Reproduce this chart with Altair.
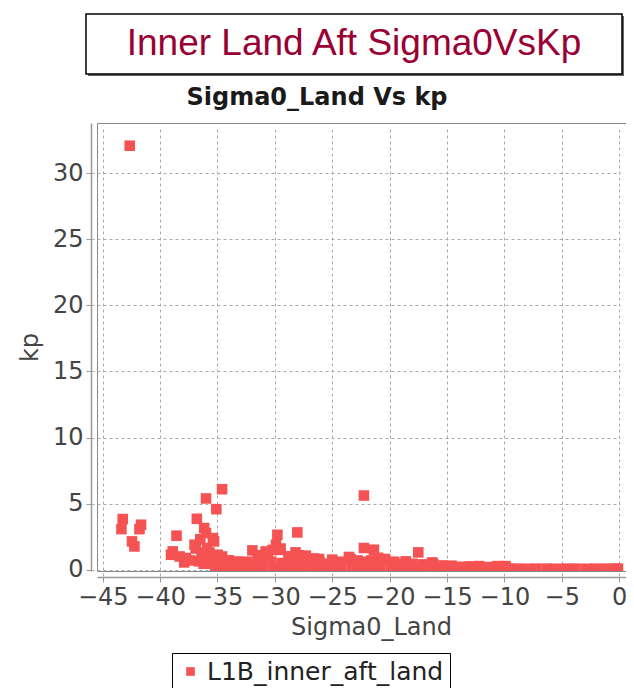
import altair as alt
import pandas as pd

MAIN_TITLE = "Inner Land Aft Sigma0VsKp"
SUB_TITLE = "Sigma0_Land Vs kp"
X_TITLE = "Sigma0_Land"
Y_TITLE = "kp"
SERIES = "L1B_inner_aft_land"
X_TICKS = [-45, -40, -35, -30, -25, -20, -15, -10, -5, 0]
Y_TICKS = [0, 5, 10, 15, 20, 25, 30]

# scattered points (outlier + clusters)
sigma_scatter = [-42.65, -43.26, -43.37, -41.66, -41.8, -42.45, -42.24,
                 -38.57, -36.0, -34.6, -35.1, -36.8, -36.16, -36.0, -35.4, -35.3,
                 -37.0, -38.9, -39.05, -37.75, -36.6, -36.9, -35.9, -36.1, -35.0,
                 -34.6, -38.3, -37.4, -37.9, -36.2, -35.6, -36.5, -35.7, -36.4,
                 -34.0, -33.2, -32.5, -31.96, -31.1, -30.8,
                 -29.78, -28.04, -29.9, -30.2, -29.5, -28.2, -28.8, -27.3, -26.6,
                 -26.15, -25.0, -24.3, -23.55, -22.24, -22.24, -21.37, -22.8, -21.0,
                 -20.4, -19.6, -18.6, -17.5, -16.3]
kp_scatter = [32.08, 3.83, 3.07, 3.4, 3.07, 2.14, 1.76,
              2.57, 5.39, 6.09, 4.58, 3.85, 3.15, 2.77, 2.39, 2.14,
              1.89, 1.38, 1.13, 0.88, 0.63, 1.6, 1.64, 1.0, 1.13,
              1.0, 1.0, 0.7, 0.55, 0.45, 0.8, 2.3, 1.3, 1.3,
              0.7, 0.6, 0.55, 1.46, 1.1, 1.38,
              2.64, 2.82, 1.89, 1.5, 1.6, 1.31, 1.0, 1.06, 0.85,
              0.81, 0.76, 0.6, 0.96, 5.61, 1.64, 1.51, 0.7, 0.9,
              0.81, 0.6, 0.63, 1.31, 0.55]

# dense band near kp = 0
sigma_band_low = [-35.2, -34.4, -33.5, -32.7, -31.8, -31.0, -30.1, -29.3, -28.4, -27.6,
                  -26.7, -25.9, -25.0, -24.2, -23.3, -22.5, -21.6, -20.8, -19.9, -19.1,
                  -18.2, -17.4, -16.5, -15.7, -14.8, -14.0, -13.1, -12.3, -11.4, -10.6,
                  -9.7, -8.9, -8.0, -7.2, -6.3, -5.5, -4.6, -3.8, -2.9, -2.1, -1.2, -0.4, -0.1]
kp_band_low = [0.1, 0.08, 0.1, 0.08, 0.1, 0.09, 0.1, 0.08, 0.1, 0.09,
               0.08, 0.1, 0.09, 0.08, 0.1, 0.09, 0.08, 0.1, 0.09, 0.08,
               0.09, 0.08, 0.09, 0.08, 0.09, 0.08, 0.08, 0.09, 0.08, 0.08,
               0.08, 0.08, 0.07, 0.08, 0.08, 0.07, 0.08, 0.08, 0.07, 0.08, 0.08, 0.08, 0.08]
sigma_band_mid = [-35.0, -34.2, -33.3, -32.4, -31.5, -30.6, -29.7, -28.8, -27.9, -27.0,
                  -26.1, -25.2, -24.3, -23.4, -22.5, -21.6, -20.7, -19.8, -18.9, -18.0,
                  -17.1, -16.2, -15.4, -14.6, -13.8, -13.0, -12.2, -11.4, -10.6, -9.9]
kp_band_mid = [0.9, 0.7, 0.6, 0.6, 0.9, 1.3, 1.5, 1.0, 1.1, 0.8,
               0.55, 0.45, 0.55, 0.8, 0.6, 0.7, 0.7, 0.5, 0.45, 0.45,
               0.4, 0.45, 0.32, 0.3, 0.22, 0.25, 0.27, 0.2, 0.27, 0.27]
sigma_band_fill = [-35.4, -34.6, -33.8, -33.0, -32.1, -31.2, -30.3, -29.4, -28.5, -27.6, -26.7]
kp_band_fill = [0.45, 0.4, 0.38, 0.35, 0.4, 0.5, 0.6, 0.5, 0.45, 0.4, 0.35]

sigma = sigma_scatter + sigma_band_low + sigma_band_mid + sigma_band_fill
kp = kp_scatter + kp_band_low + kp_band_mid + kp_band_fill
df = pd.DataFrame({"sigma": sigma, "kp": kp, "series": [SERIES] * len(sigma)})

RED = "#f55353"
FONT = "DejaVu Sans"

points = alt.Chart(df).mark_point(
    shape="square", filled=True, size=112, opacity=1, clip=True
).encode(
    x=alt.X("sigma:Q", title=X_TITLE,
            scale=alt.Scale(domain=[-45.5, 0.6], nice=False, zero=False),
            axis=alt.Axis(values=X_TICKS, titleX=274)),
    y=alt.Y("kp:Q", title=Y_TITLE,
            scale=alt.Scale(domain=[-0.1, 33.8], nice=False, zero=False),
            axis=alt.Axis(values=Y_TICKS)),
    color=alt.Color("series:N", scale=alt.Scale(domain=[SERIES], range=[RED]),
                    legend=alt.Legend(orient="none", legendX=75, legendY=530, title=None,
                                      strokeColor="black", padding=6, labelFontSize=25,
                                      labelFont=FONT, labelColor="#222", symbolSize=75,
                                      symbolType="square", labelLimit=400)),
)

one = pd.DataFrame({"main": [MAIN_TITLE], "sub": [SUB_TITLE]})
shadow = alt.Chart(one).mark_rect(fill="#666").encode(
    x=alt.value(-9), x2=alt.value(527), y=alt.value(-107), y2=alt.value(-47))
box = alt.Chart(one).mark_rect(fill="white", stroke="black", strokeWidth=1.5).encode(
    x=alt.value(-11), x2=alt.value(525), y=alt.value(-109), y2=alt.value(-49))
main_txt = alt.Chart(one).mark_text(
    font="Liberation Sans", fontSize=37, color="#990033", align="center", baseline="alphabetic"
).encode(text="main:N", x=alt.value(257), y=alt.value(-68))
sub_txt = alt.Chart(one).mark_text(
    font=FONT, fontSize=24, fontWeight="bold", color="#1a1a1a", align="center", baseline="alphabetic"
).encode(text="sub:N", x=alt.value(220), y=alt.value(-18))

chart = alt.layer(shadow, box, main_txt, sub_txt, points).properties(
    width=529, height=448,
    padding={"left": 89, "top": 115, "right": 0, "bottom": 117},
    autosize=alt.AutoSizeParams(type="none"),
).configure_view(
    stroke="#888", strokeWidth=1
).configure_axis(
    labelFont=FONT, labelFontSize=24, labelColor="#444",
    titleFont=FONT, titleFontSize=24, titleFontWeight="normal", titleColor="#444",
    domainColor="#999", domainWidth=1.5, tickColor="#999", tickSize=5,
    offset=6, labelPadding=3,
    gridColor="#aaa", gridDash=[3, 3], gridWidth=1,
).configure_axisY(titlePadding=10).configure_axisX(titlePadding=6)

chart.save("out.html", embed_options={"renderer": "svg", "actions": False})
